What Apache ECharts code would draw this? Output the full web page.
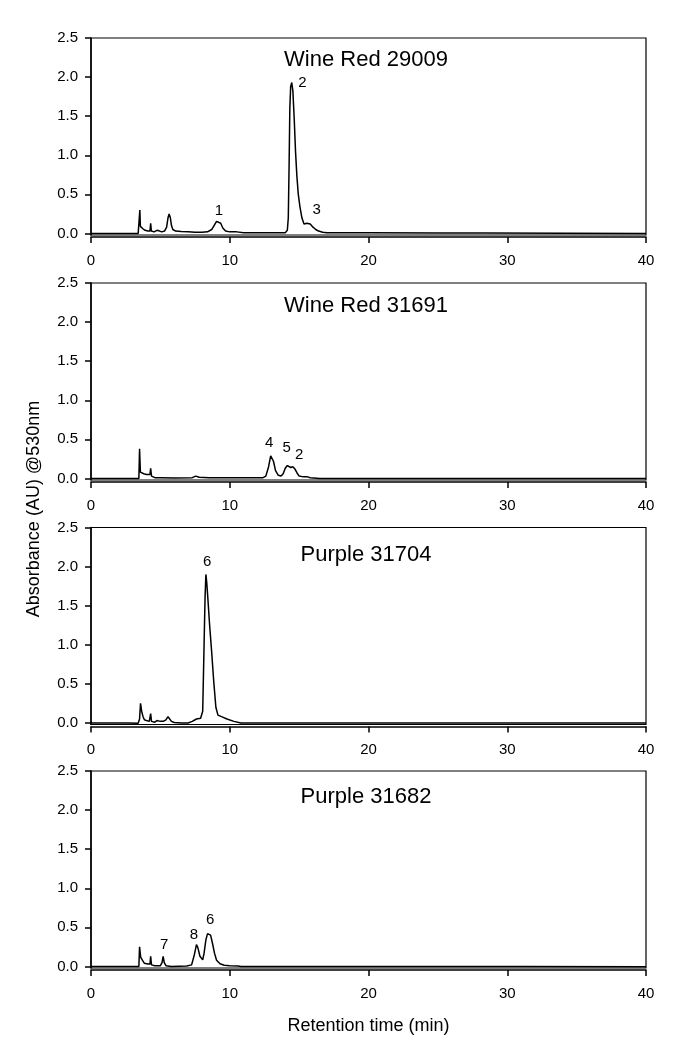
<!DOCTYPE html>
<html>
<head>
<meta charset="utf-8">
<script src="https://cdn.jsdelivr.net/npm/echarts@6/dist/echarts.min.js"></script>
<style>
html,body{margin:0;padding:0;background:#fff;}
#chart{width:685px;height:1048px;}
</style>
</head>
<body>
<div id="chart"></div>
<script>
// ---- data (retention time [min], absorbance [AU]) ----
const panelTitles = ['Wine Red 29009', 'Wine Red 31691', 'Purple 31704', 'Purple 31682'];

const wineRed29009 = [
  [0,0],[3.40,0.0],[3.48,0.02],[3.52,0.30],[3.56,0.09],[3.62,0.07],[3.68,0.11],[3.74,0.06],[3.9,0.04],
  [4.1,0.03],[4.25,0.03],[4.3,0.13],[4.35,0.03],[4.55,0.02],[4.75,0.04],[4.85,0.05],[4.95,0.03],
  [5.1,0.02],[5.3,0.03],[5.45,0.08],[5.55,0.2],[5.63,0.25],[5.72,0.2],[5.8,0.1],[5.9,0.05],[6.1,0.03],
  [6.5,0.025],[7.0,0.02],[7.5,0.015],[8.0,0.015],[8.4,0.02],[8.7,0.05],[8.9,0.11],[9.05,0.155],[9.18,0.165],
  [9.35,0.13],[9.5,0.07],[9.7,0.03],[10.0,0.02],[10.5,0.02],[11.0,0.01],[12,0.008],[13,0.008],
  [14.0,0.01],[14.15,0.04],[14.22,0.2],[14.28,0.9],[14.33,1.6],[14.39,1.88],[14.47,1.93],[14.55,1.82],
  [14.65,1.45],[14.74,1.05],[14.84,0.73],[14.94,0.5],[15.06,0.34],[15.2,0.2],[15.35,0.12],[15.45,0.11],
  [15.55,0.13],[15.66,0.15],[15.8,0.12],[16.0,0.08],[16.2,0.05],[16.4,0.03],[16.7,0.015],[17,0.01],
  [20,0.008],[25,0.006],[28.3,0.006],[28.4,0.0],[40,0.0]
];

const wineRed31691 = [
  [0,0],[3.45,0.0],[3.5,0.38],[3.56,0.08],[3.62,0.06],[3.7,0.09],[3.8,0.06],[4.0,0.05],[4.25,0.05],
  [4.3,0.13],[4.36,0.03],[4.6,0.01],[5,0.01],[6,0.005],[7.3,0.01],[7.55,0.03],[7.8,0.015],[8.5,0.01],
  [10,0.01],[12.4,0.01],[12.6,0.03],[12.8,0.15],[12.95,0.29],[13.02,0.31],[13.15,0.22],[13.3,0.1],
  [13.5,0.04],[13.7,0.03],[13.85,0.06],[14.0,0.13],[14.15,0.165],[14.25,0.16],[14.4,0.14],[14.55,0.15],
  [14.7,0.12],[14.85,0.07],[15.0,0.03],[15.3,0.02],[15.6,0.02],[15.8,0.01],[16.5,0.0],[40,0.0]
];

const purple31704 = [
  [0,0],[2.7,0.0],[2.75,-0.005],[3.4,-0.005],[3.5,0.05],[3.57,0.25],[3.65,0.15],[3.75,0.08],[3.85,0.04],
  [4.0,0.03],[4.2,0.02],[4.3,0.12],[4.36,0.02],[4.6,0.01],[4.75,0.03],[4.85,0.01],[5.0,0.02],[5.1,0.03],
  [5.2,0.02],[5.4,0.04],[5.55,0.08],[5.65,0.07],[5.8,0.02],[6.0,0.005],[6.5,0.0],[7.0,0.0],[7.3,0.02],
  [7.6,0.05],[7.9,0.06],[8.0,0.08],[8.05,0.15],[8.15,1.0],[8.22,1.6],[8.28,1.9],[8.34,1.8],[8.42,1.6],
  [8.55,1.25],[8.7,0.9],[8.85,0.52],[9.0,0.2],[9.15,0.1],[9.4,0.08],[9.8,0.05],[10.3,0.02],[10.8,0.0],
  [40,0.0]
];

const purple31682 = [
  [0,0],[3.45,0.0],[3.5,0.25],[3.58,0.12],[3.7,0.08],[3.85,0.04],[4.1,0.03],[4.25,0.03],[4.3,0.13],
  [4.36,0.02],[4.6,0.01],[5.0,0.01],[5.12,0.05],[5.2,0.13],[5.28,0.05],[5.4,0.01],[5.8,0.0],[6.9,0.005],
  [7.25,0.02],[7.45,0.15],[7.6,0.28],[7.7,0.24],[7.85,0.13],[8.05,0.085],[8.15,0.17],[8.28,0.34],
  [8.4,0.42],[8.5,0.43],[8.62,0.4],[8.75,0.3],[8.9,0.17],[9.05,0.08],[9.3,0.035],[9.6,0.015],[10.0,0.01],
  [10.6,0.005],[10.8,0.0],[31,0.0],[31.1,-0.005],[40,-0.005]
];

// peak labels: [time, absorbance, text]
const peaks29009 = [[9.22,0.29,'1'],[15.23,1.93,'2'],[16.26,0.30,'3']];
const peaks31691 = [[12.85,0.45,'4'],[14.1,0.39,'5'],[15.0,0.30,'2']];
const peaks31704 = [[8.38,2.06,'6']];
const peaks31682 = [[5.28,0.28,'7'],[7.42,0.41,'8'],[8.58,0.60,'6']];

const yTickValues = [0, 0.5, 1.0, 1.5, 2.0, 2.5];
const xTickValues = [0, 10, 20, 30, 40];

const xAxisName = 'Retention time (min)';
const yAxisName = 'Absorbance (AU) @530nm';

// ---- layout ----
const series = [wineRed29009, wineRed31691, purple31704, purple31682];
const peakSets = [peaks29009, peaks31691, peaks31704, peaks31682];
const gridTops = [38, 283, 527.5, 771];
const gridH = 197;
const titleYs = [60, 306, 555, 797];
const FONT = "'Liberation Sans', Arial, sans-serif";

const grids = [], xAxes = [], yAxes = [], ser = [], graphics = [];
for (let i = 0; i < 4; i++) {
  grids.push({left: 91, right: 39, top: gridTops[i], height: gridH, show: true,
    borderColor: '#000', borderWidth: 1.2, backgroundColor: 'transparent', containLabel: false});
  xAxes.push({
    type: 'value', gridIndex: i, min: xTickValues[0], max: xTickValues[xTickValues.length - 1],
    interval: 10, offset: 2,
    axisLine: {show: true, onZero: false, lineStyle: {color: '#000', width: 1.5}},
    axisTick: {show: true, inside: false, length: 6, lineStyle: {color: '#000', width: 1.5}},
    axisLabel: {show: true, margin: 16, color: '#000', fontSize: 15, fontFamily: FONT},
    splitLine: {show: false},
    name: i === 3 ? xAxisName : '', nameLocation: 'middle', nameGap: 47,
    nameTextStyle: {color: '#000', fontSize: 18, fontFamily: FONT}
  });
  yAxes.push({
    type: 'value', gridIndex: i, min: -0.02, max: 2.5,
    axisLine: {show: true, onZero: false, lineStyle: {color: '#000', width: 1.5}},
    axisTick: {show: true, inside: false, length: 6, customValues: yTickValues, lineStyle: {color: '#000', width: 1.5}},
    axisLabel: {show: true, margin: 13, color: '#000', fontSize: 15, fontFamily: FONT,
      customValues: yTickValues, formatter: v => v.toFixed(1)},
    splitLine: {show: false}
  });
  ser.push({
    type: 'line', xAxisIndex: i, yAxisIndex: i, data: series[i], showSymbol: false, symbol: 'none',
    lineStyle: {color: '#000', width: 1.5}, animation: false, silent: true
  });
  ser.push({
    type: 'scatter', xAxisIndex: i, yAxisIndex: i, symbolSize: 0, animation: false, silent: true,
    itemStyle: {color: '#000', opacity: 1},
    data: peakSets[i].map(p => ({value: [p[0], p[1]], name: p[2]})),
    label: {show: true, position: 'inside', formatter: p => p.name, color: '#000',
      textBorderWidth: 0, fontSize: 15, fontFamily: FONT}
  });
  graphics.push({type: 'text', x: 366, y: titleYs[i],
    style: {text: panelTitles[i], fill: '#000', font: '22px ' + FONT,
      align: 'center', verticalAlign: 'middle', textAlign: 'center', textVerticalAlign: 'middle'}});
}
graphics.push({type: 'text', x: 34, y: 509, rotation: Math.PI / 2,
  style: {text: yAxisName, fill: '#000', font: '18px ' + FONT,
    align: 'center', verticalAlign: 'middle', textAlign: 'center', textVerticalAlign: 'middle'}});

const chart = echarts.init(document.getElementById('chart'), null, {renderer: 'canvas'});
chart.setOption({
  animation: false,
  backgroundColor: '#fff',
  grid: grids, xAxis: xAxes, yAxis: yAxes, series: ser, graphic: graphics
});
</script>
</body>
</html>
